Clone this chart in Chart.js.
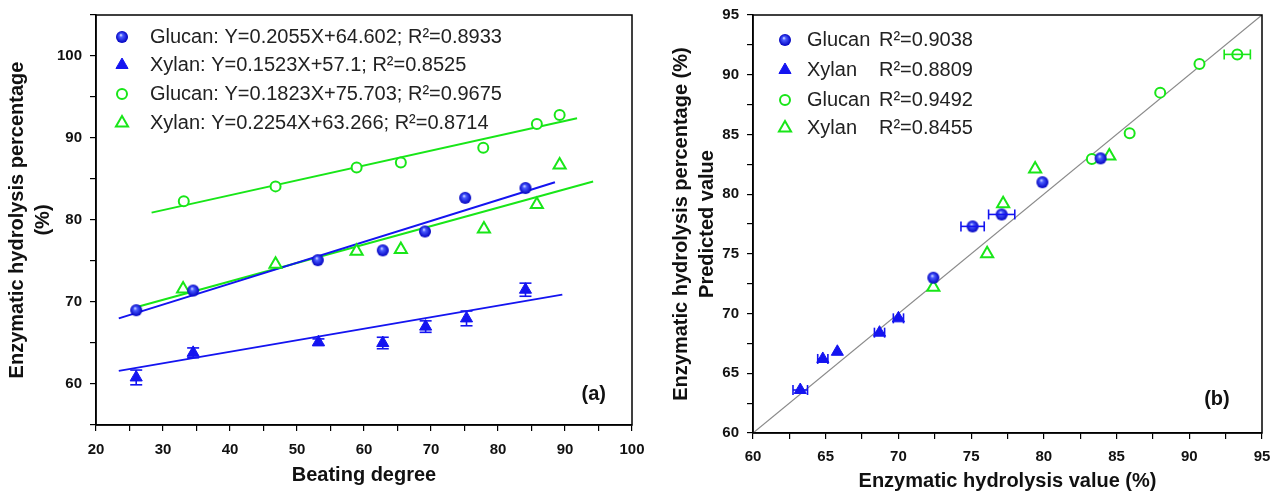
<!DOCTYPE html>
<html>
<head>
<meta charset="utf-8">
<script src="https://cdn.jsdelivr.net/npm/chart.js@4.4.0/dist/chart.umd.min.js"></script>
<style>
  html, body { margin: 0; padding: 0; background: #fff; }
  #wrap { position: relative; width: 1281px; height: 491px; }
  #c1 { position: absolute; left: 0; top: 0; }
  #c2 { position: absolute; left: 640px; top: 0; }
</style>
</head>
<body>
<div id="wrap">
  <canvas id="c1" width="660" height="491"></canvas>
  <canvas id="c2" width="641" height="491"></canvas>
</div>
<script>
// ---- (a) hydrolysis vs beating degree ----
const beatGlucanX = [26.0, 34.5, 53.1, 62.8, 69.1, 75.1, 84.1]
const beatGlucanY = [69.0, 71.4, 75.1, 76.3, 78.6, 82.7, 83.9]
const beatXylanX = [26.0, 34.5, 53.2, 62.8, 69.2, 75.3, 84.1]
const beatXylanY = [60.8, 63.8, 65.1, 65.0, 67.0, 68.0, 71.5]
const beatXylanErr = [0.9, 0.6, 0.4, 0.7, 0.7, 0.9, 0.8]
const beatGlucan2X = [33.1, 46.8, 58.9, 65.5, 77.8, 85.8, 89.2]
const beatGlucan2Y = [82.3, 84.1, 86.4, 87.0, 88.8, 91.7, 92.8]
const beatXylan2X = [33.0, 46.8, 58.9, 65.5, 77.9, 85.8, 89.2]
const beatXylan2Y = [71.6, 74.6, 76.2, 76.4, 78.9, 81.9, 86.7]

// fitted lines as drawn (start / end)
const fitGlucanX = [23.4, 88.5], fitGlucanY = [68.0, 84.6]
const fitXylanX = [23.4, 89.6], fitXylanY = [61.6, 70.9]
const fitGlucan2X = [28.3, 91.8], fitGlucan2Y = [80.9, 92.4]
const fitXylan2X = [26.1, 94.2], fitXylan2Y = [69.4, 84.7]

const legendA = [
  'Glucan: Y=0.2055X+64.602; R²=0.8933',
  'Xylan: Y=0.1523X+57.1; R²=0.8525',
  'Glucan: Y=0.1823X+75.703; R²=0.9675',
  'Xylan: Y=0.2254X+63.266; R²=0.8714'
]

// ---- (b) predicted vs measured ----
const predGlucanX = [72.4, 75.1, 77.1, 79.9, 83.9]
const predGlucanY = [73.0, 77.3, 78.3, 81.0, 83.0]
const predGlucanErr = [0, 0.8, 0.9, 0, 0]
const predXylanX = [63.25, 64.8, 65.8, 68.7, 70.0]
const predXylanY = [63.6, 66.2, 66.8, 68.4, 69.6]
const predXylanErr = [0.5, 0.35, 0, 0.35, 0.35]
const predGlucan2X = [83.3, 85.9, 88.0, 90.7, 93.3]
const predGlucan2Y = [82.95, 85.1, 88.5, 90.9, 91.7]
const predGlucan2Err = [0, 0, 0, 0, 0.9]
const predXylan2X = [72.4, 76.1, 77.2, 79.4, 84.5]
const predXylan2Y = [72.2, 75.0, 79.2, 82.1, 83.2]
const diagX = [60, 95], diagY = [60, 95]

const legendBNames = ['Glucan', 'Xylan', 'Glucan', 'Xylan']
const legendBR2 = ['R²=0.9038', 'R²=0.8809', 'R²=0.9492', 'R²=0.8455']

const BLUE = '#1414f0'
const GREEN = '#18e618'

const pts = (xs, ys) => xs.map((x, i) => ({x, y: ys[i]}))

// shaded ball used for glucan markers
function sphere(r) {
  const c = document.createElement('canvas')
  c.width = c.height = 2 * r + 2
  const g = c.getContext('2d')
  const grad = g.createRadialGradient(r + 1 - r * 0.2, r + 1 - r * 0.35, 0, r + 1, r + 1, r)
  grad.addColorStop(0, '#eef3ff')
  grad.addColorStop(0.3, '#4a5cff')
  grad.addColorStop(1, '#0000c0')
  g.fillStyle = grad
  g.beginPath()
  g.arc(r + 1, r + 1, r, 0, Math.PI * 2)
  g.fill()
  return c
}
const ball = sphere(6)

function markerSet(kind) {
  if (kind === 'ball') return {pointStyle: ball, pointRadius: 6, pointBackgroundColor: BLUE, pointBorderColor: BLUE, pointBorderWidth: 0}
  if (kind === 'tri') return {pointStyle: 'triangle', pointRadius: 7, pointBackgroundColor: BLUE, pointBorderColor: BLUE, pointBorderWidth: 1}
  if (kind === 'ring') return {pointStyle: 'circle', pointRadius: 5, pointBackgroundColor: '#fff', pointBorderColor: GREEN, pointBorderWidth: 2}
  return {pointStyle: 'triangle', pointRadius: 7, pointBackgroundColor: '#fff', pointBorderColor: GREEN, pointBorderWidth: 2}
}

function scatterSet(label, data, kind, extra) {
  return Object.assign({label, data, showLine: false, order: 1}, markerSet(kind), extra || {})
}
function lineSet(data, color, width) {
  return {label: '', data, showLine: true, borderColor: color, borderWidth: width, pointRadius: 0, order: 2}
}

function drawMarker(ctx, ds, x, y) {
  const r = ds.pointRadius
  ctx.save()
  ctx.fillStyle = ds.pointBackgroundColor
  ctx.strokeStyle = ds.pointBorderColor
  ctx.lineWidth = ds.pointBorderWidth
  if (typeof ds.pointStyle !== 'string') {
    const img = ds.pointStyle
    ctx.drawImage(img, x - img.width / 2, y - img.height / 2)
  } else {
    ctx.beginPath()
    if (ds.pointStyle === 'circle') {
      ctx.arc(x, y, r, 0, Math.PI * 2)
    } else {
      let a = 0
      for (let k = 0; k < 3; k++) {
        const px = x + Math.sin(a) * r, py = y - Math.cos(a) * r
        k ? ctx.lineTo(px, py) : ctx.moveTo(px, py)
        a += Math.PI * 2 / 3
      }
      ctx.closePath()
    }
    ctx.fill()
    if (ds.pointBorderWidth) ctx.stroke()
  }
  ctx.restore()
}

const frame = {
  id: 'frame',
  afterDraw(chart) {
    const {ctx, chartArea: a} = chart
    ctx.save()
    ctx.strokeStyle = '#000'
    ctx.lineWidth = 1.5
    ctx.strokeRect(a.left, a.top, a.right - a.left, a.bottom - a.top)
    ctx.restore()
  }
}

const errorBars = {
  id: 'errorBars',
  afterDatasetsDraw(chart) {
    const {ctx, scales: {x, y}} = chart
    const seg = (x1, y1, x2, y2) => { ctx.beginPath(); ctx.moveTo(x1, y1); ctx.lineTo(x2, y2); ctx.stroke() }
    chart.data.datasets.forEach(ds => {
      if (!ds.errX && !ds.errY) return
      ctx.save()
      ctx.strokeStyle = ds.pointBorderColor
      ctx.lineWidth = 1.6
      ds.data.forEach((p, j) => {
        const px = x.getPixelForValue(p.x), py = y.getPixelForValue(p.y)
        const ex = ds.errX ? ds.errX[j] : 0
        const ey = ds.errY ? ds.errY[j] : 0
        if (ex) {
          const l = x.getPixelForValue(p.x - ex), r = x.getPixelForValue(p.x + ex)
          seg(l, py, r, py); seg(l, py - 5, l, py + 5); seg(r, py - 5, r, py + 5)
        }
        if (ey) {
          const t = y.getPixelForValue(p.y + ey), b = y.getPixelForValue(p.y - ey)
          seg(px, t, px, b); seg(px - 6, t, px + 6, t); seg(px - 6, b, px + 6, b)
        }
      })
      ctx.restore()
    })
  }
}

const insideLegend = {
  id: 'insideLegend',
  afterDraw(chart, args, opts) {
    const {ctx, chartArea: a, scales: {x, y}} = chart
    const ds = chart.data.datasets
    ctx.save()
    ctx.fillStyle = '#222'
    ctx.font = '20px "Liberation Sans", Arial, sans-serif'
    ctx.textBaseline = 'middle'
    opts.rows.forEach((row, i) => {
      const cy = a.top + opts.rowY[i]
      drawMarker(ctx, ds[i], a.left + opts.markX, cy)
      ctx.fillText(row[0], a.left + opts.textX, cy)
      if (row[1]) ctx.fillText(row[1], a.left + opts.text2X, cy)
    })
    ctx.font = 'bold 20px "Liberation Sans", Arial, sans-serif'
    ctx.fillStyle = '#111'
    ctx.textAlign = 'center'
    ctx.fillText(opts.tag, x.getPixelForValue(opts.tagAt[0]), y.getPixelForValue(opts.tagAt[1]))
    ctx.restore()
  }
}

const tickFont = {family: '"Liberation Sans", Arial, sans-serif', size: 15, weight: 'bold'}
const titleFont = {family: '"Liberation Sans", Arial, sans-serif', size: 20, weight: 'bold'}

function axis(min, max, step, major, tickPad, fitSize, horizontal, title) {
  return {
    type: 'linear', min, max,
    ticks: {
      stepSize: step, autoSkip: false, maxRotation: 0, color: '#111', font: tickFont, padding: tickPad,
      callback: v => (Math.abs(v / major - Math.round(v / major)) < 1e-6 ? v : '')
    },
    grid: {drawOnChartArea: false, drawTicks: true, tickLength: 6, color: '#000', lineWidth: 1.2},
    border: {display: true, color: '#000', width: 1.5},
    title: Object.assign({display: true, color: '#111'}, title),
    afterFit: s => {
      if (horizontal) { s.height = fitSize; s.paddingLeft = 0; s.paddingRight = 0 }
      else { s.width = fitSize; s.paddingTop = 0; s.paddingBottom = 0 }
    }
  }
}

new Chart(document.getElementById('c1'), {
  type: 'scatter',
  data: {
    datasets: [
      scatterSet('Glucan', pts(beatGlucanX, beatGlucanY), 'ball'),
      scatterSet('Xylan', pts(beatXylanX, beatXylanY), 'tri', {errY: beatXylanErr}),
      scatterSet('Glucan', pts(beatGlucan2X, beatGlucan2Y), 'ring'),
      scatterSet('Xylan', pts(beatXylan2X, beatXylan2Y), 'opentri'),
      lineSet(pts(fitGlucanX, fitGlucanY), BLUE, 2),
      lineSet(pts(fitXylanX, fitXylanY), BLUE, 2),
      lineSet(pts(fitGlucan2X, fitGlucan2Y), GREEN, 2),
      lineSet(pts(fitXylan2X, fitXylan2Y), GREEN, 2)
    ]
  },
  options: {
    responsive: false,
    animation: false,
    layout: {padding: {top: 15, right: 28, left: 0, bottom: 0}},
    plugins: {
      legend: {display: false},
      tooltip: {enabled: false},
      insideLegend: {
        rows: legendA.map(t => [t]),
        rowY: [22, 50, 79, 108], markX: 26, textX: 54,
        tag: '(a)', tagAt: [94.3, 58.7]
      }
    },
    scales: {
      x: axis(20, 100, 5, 10, 10, 66, true,
        {text: 'Beating degree', font: Object.assign({lineHeight: 1}, titleFont), padding: {top: 4, bottom: 6}}),
      y: axis(55, 105, 5, 10, 8, 96, false,
        {text: ['Enzymatic hydrolysis percentage', '(%)'], font: Object.assign({lineHeight: 1.3}, titleFont), padding: {top: 4, bottom: 0}})
    }
  },
  plugins: [frame, errorBars, insideLegend]
})

new Chart(document.getElementById('c2'), {
  type: 'scatter',
  data: {
    datasets: [
      scatterSet('Glucan', pts(predGlucanX, predGlucanY), 'ball', {errX: predGlucanErr}),
      scatterSet('Xylan', pts(predXylanX, predXylanY), 'tri', {errX: predXylanErr}),
      scatterSet('Glucan', pts(predGlucan2X, predGlucan2Y), 'ring', {errX: predGlucan2Err}),
      scatterSet('Xylan', pts(predXylan2X, predXylan2Y), 'opentri'),
      lineSet(pts(diagX, diagY), '#8a8a8a', 1.2)
    ]
  },
  options: {
    responsive: false,
    animation: false,
    layout: {padding: {top: 15, right: 19, left: 0, bottom: 0}},
    plugins: {
      legend: {display: false},
      tooltip: {enabled: false},
      insideLegend: {
        rows: legendBNames.map((n, i) => [n, legendBR2[i]]),
        rowY: [25, 55, 85, 113], markX: 32, textX: 54, text2X: 126,
        tag: '(b)', tagAt: [91.9, 62.8]
      }
    },
    scales: {
      x: axis(60, 95, 2.5, 5, 9, 58, true,
        {text: 'Enzymatic hydrolysis value (%)', font: Object.assign({lineHeight: 1}, titleFont), padding: {top: 4, bottom: 0}}),
      y: axis(60, 95, 2.5, 5, 8, 113, false,
        {text: ['Enzymatic hydrolysis percentage (%)', 'Predicted value'], font: Object.assign({lineHeight: 1.3}, titleFont), padding: {top: 28, bottom: 0}})
    }
  },
  plugins: [frame, errorBars, insideLegend]
})
</script>
</body>
</html>
